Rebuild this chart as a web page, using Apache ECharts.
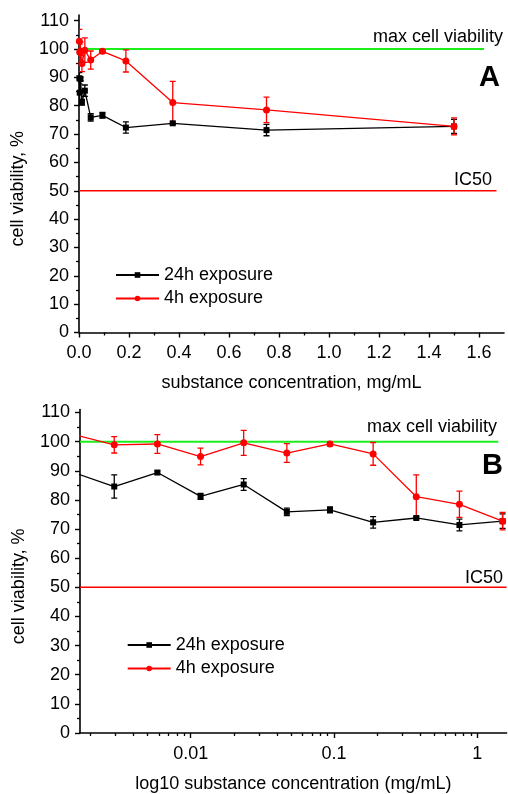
<!DOCTYPE html>
<html>
<head>
<meta charset="utf-8">
<script src="https://cdn.jsdelivr.net/npm/echarts@6/dist/echarts.min.js"></script>
<style>
  html, body { margin: 0; padding: 0; background: #fff; }
  #chart { width: 508px; height: 794px; }
</style>
</head>
<body>
<div id="chart"></div>
<script>
// Twofold dilution series, mg/mL
const concentration = [0.00146484375, 0.0029296875, 0.005859375, 0.01171875, 0.0234375,
                       0.046875, 0.09375, 0.1875, 0.375, 0.75, 1.5];
// Cell viability, % (mean and error)
const viability24h = [89.7, 84.6, 89.4, 81.2, 85.3, 75.9, 76.6, 72.3, 73.8, 71.4, 72.7];
const error24h     = [2.0, 4.0, 0.6, 1.0, 2.0, 1.3, 1.0, 2.0, 0.4, 2.0, 2.5];
const viability4h  = [102.7, 98.9, 99.2, 94.9, 99.6, 96.1, 99.2, 95.8, 81.1, 78.5, 72.7];
const error4h      = [4.2, 2.8, 3.2, 2.9, 4.3, 3.2, 0.6, 3.9, 7.5, 4.5, 3.0];
const seriesNames  = ['24h exposure', '4h exposure'];

// Reference levels and the x-span each level line covers
const maxViability = 100;
const ic50Level = 50;
const maxLineSpanA = [0, 1.62];
const ic50LineSpanA = [0, 1.67];
const maxLineSpanB = [0.00169, 1.4];
const ic50LineSpanB = [0.00169, 1.6];

// Tick values
const yMajorTicks = [0, 10, 20, 30, 40, 50, 60, 70, 80, 90, 100, 110];
const yMinorTicks = [5, 15, 25, 35, 45, 55, 65, 75, 85, 95, 105];
const xLinearMajorTicks = [0, 0.2, 0.4, 0.6, 0.8, 1.0, 1.2, 1.4, 1.6];
const xLinearMinorTicks = [0.1, 0.3, 0.5, 0.7, 0.9, 1.1, 1.3, 1.5];
const xLogMajorTicks = [0.01, 0.1, 1];
const xLogMinorTicks = [0.002, 0.003, 0.004, 0.005, 0.006, 0.007, 0.008, 0.009,
                        0.02, 0.03, 0.04, 0.05, 0.06, 0.07, 0.08, 0.09,
                        0.2, 0.3, 0.4, 0.5, 0.6, 0.7, 0.8, 0.9];

const FONT = '"Liberation Sans", Arial, Helvetica, sans-serif';
const BLACK = '#000000';
const RED = '#ff0000';
const GREEN = '#1bee1b';

const chart = echarts.init(document.getElementById('chart'), null, { renderer: 'canvas' });

const axisLineStyle = { color: BLACK, width: 1.6 };
const labelStyle = { color: BLACK, fontSize: 18, fontFamily: FONT };

function mainXAxis(gridIndex, type, min, max, ticks, nameText, formatter) {
  return {
    gridIndex, type, min, max, position: 'bottom',
    logBase: 10,
    name: nameText, nameLocation: 'middle', nameGap: 42,
    nameTextStyle: { color: BLACK, fontSize: 18, fontFamily: FONT },
    axisLine: { show: true, onZero: false, lineStyle: axisLineStyle },
    axisTick: { show: true, inside: false, length: 5, customValues: ticks, lineStyle: { color: BLACK, width: 1.4 } },
    axisLabel: { show: true, margin: 12, customValues: ticks, formatter, ...labelStyle },
    splitLine: { show: false }, minorTick: { show: false }
  };
}
function minorXAxis(gridIndex, type, min, max, ticks) {
  return {
    gridIndex, type, min, max, position: 'bottom', logBase: 10,
    axisLine: { show: false, onZero: false },
    axisTick: { show: true, inside: false, length: 3, customValues: ticks, lineStyle: { color: BLACK, width: 1.3 } },
    axisLabel: { show: false }, splitLine: { show: false }
  };
}
function mainYAxis(gridIndex, max) {
  return {
    gridIndex, type: 'value', min: 0, max, position: 'left',
    name: 'cell viability, %', nameLocation: 'middle', nameGap: 52, nameRotate: 90,
    nameTextStyle: { color: BLACK, fontSize: 18, fontFamily: FONT, padding: [0, 30, 0, 0] },
    axisLine: { show: true, onZero: false, lineStyle: axisLineStyle },
    axisTick: { show: true, inside: false, length: 5, customValues: yMajorTicks, lineStyle: { color: BLACK, width: 1.4 } },
    axisLabel: { show: true, margin: 10, customValues: yMajorTicks, formatter: v => String(Math.round(v)), ...labelStyle },
    splitLine: { show: false }
  };
}
function minorYAxis(gridIndex, max) {
  return {
    gridIndex, type: 'value', min: 0, max, position: 'left',
    axisLine: { show: false, onZero: false },
    axisTick: { show: true, inside: false, length: 3, customValues: yMinorTicks, lineStyle: { color: BLACK, width: 1.3 } },
    axisLabel: { show: false }, splitLine: { show: false }
  };
}

function lineSeries(name, color, symbol, symbolSize, axisIdx, values) {
  return {
    type: 'line', name, xAxisIndex: axisIdx, yAxisIndex: axisIdx,
    data: concentration.map((c, i) => [c, values[i]]),
    symbol, symbolSize, showAllSymbol: true, clip: true,
    lineStyle: { color, width: 1.3 },
    itemStyle: { color, borderWidth: 0 },
    emphasis: { disabled: true }, z: 4
  };
}

function errorBarSeries(name, color, axisIdx, values, errors) {
  return {
    type: 'custom', name, xAxisIndex: axisIdx, yAxisIndex: axisIdx, clip: true, z: 3,
    itemStyle: { color },
    data: concentration.map((c, i) => [c, values[i] - errors[i], values[i] + errors[i]]),
    encode: { x: 0, y: [1, 2] },
    renderItem: (params, api) => {
      const x = api.value(0);
      const lo = api.coord([x, api.value(1)]);
      const hi = api.coord([x, api.value(2)]);
      const half = 3;
      const style = { stroke: color, lineWidth: 1.3 };
      return {
        type: 'group',
        children: [
          { type: 'line', shape: { x1: hi[0], y1: hi[1], x2: lo[0], y2: lo[1] }, style },
          { type: 'line', shape: { x1: hi[0] - half, y1: hi[1], x2: hi[0] + half, y2: hi[1] }, style },
          { type: 'line', shape: { x1: lo[0] - half, y1: lo[1], x2: lo[0] + half, y2: lo[1] }, style }
        ]
      };
    }
  };
}

function levelLine(color, width, axisIdx, span, level) {
  return {
    type: 'line', xAxisIndex: axisIdx, yAxisIndex: axisIdx, silent: true, clip: true,
    data: span.map(x => [x, level]),
    symbol: 'none', lineStyle: { color, width }, z: 2, emphasis: { disabled: true }
  };
}

function panelSeries(axisIdx, maxSpan, icSpan) {
  return [
    levelLine(GREEN, 2, axisIdx, maxSpan, maxViability),
    levelLine(RED, 1.5, axisIdx, icSpan, ic50Level),
    lineSeries(seriesNames[0], BLACK, 'rect', 6, axisIdx, viability24h),
    lineSeries(seriesNames[1], RED, 'circle', 7, axisIdx, viability4h),
    errorBarSeries(seriesNames[0], BLACK, axisIdx, viability24h, error24h),
    errorBarSeries(seriesNames[1], RED, axisIdx, viability4h, error4h)
  ];
}

function legendAt(left, top) {
  return {
    data: seriesNames, orient: 'vertical', left, top,
    itemWidth: 43, itemHeight: 7, itemGap: 5.5, selectedMode: false,
    textStyle: { color: BLACK, fontSize: 18, fontFamily: FONT }
  };
}

function caption(text, x, y, size, weight) {
  return {
    type: 'text', x, y, silent: true,
    style: { text, fill: BLACK, font: `${weight} ${size}px ${FONT}`, textAlign: 'right', textVerticalAlign: 'middle' }
  };
}

// Axis index layout: [main, minor] for panel A, then [main, minor] for panel B.
const option = {
  animation: false,
  backgroundColor: '#ffffff',
  grid: [
    { left: 79, top: 15, width: 425, height: 317.5 },
    { left: 80, top: 409.6, width: 426.6, height: 324.1 }
  ],
  xAxis: [
    mainXAxis(0, 'value', 0, 1.7, xLinearMajorTicks, 'substance concentration, mg/mL', v => v.toFixed(1)),
    minorXAxis(0, 'value', 0, 1.7, xLinearMinorTicks),
    mainXAxis(1, 'log', 0.00169, 1.6, xLogMajorTicks, 'log10 substance concentration (mg/mL)', v => String(+v.toPrecision(3))),
    minorXAxis(1, 'log', 0.00169, 1.6, xLogMinorTicks)
  ],
  yAxis: [
    mainYAxis(0, 112), minorYAxis(0, 112),
    mainYAxis(1, 111), minorYAxis(1, 111)
  ],
  legend: [legendAt(110, 261), legendAt(121.7, 631)],
  series: [
    ...panelSeries(0, maxLineSpanA, ic50LineSpanA),
    ...panelSeries(2, maxLineSpanB, ic50LineSpanB)
  ],
  graphic: [
    caption('max cell viability', 503, 37, 18, 'normal'),
    caption('A', 500, 78, 29, 'bold'),
    caption('IC50', 492, 180, 18, 'normal'),
    caption('max cell viability', 497, 427, 18, 'normal'),
    caption('B', 503, 466, 29, 'bold'),
    caption('IC50', 503, 578, 18, 'normal')
  ]
};

chart.setOption(option);
</script>
</body>
</html>
